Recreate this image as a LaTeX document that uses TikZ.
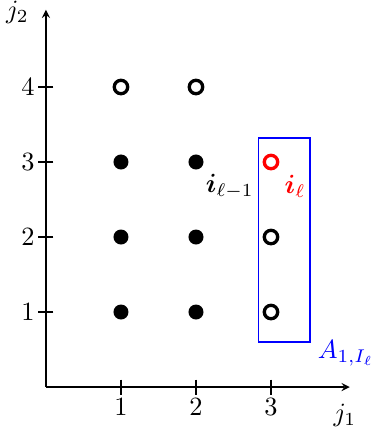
\documentclass[tikz,border=0pt]{standalone}
\usepackage{amsmath}
\usepackage{amssymb}
\usepackage{bm}
\usetikzlibrary{arrows,calc,positioning}
\tikzset{full/.style={circle,fill=black,inner sep=0pt,minimum size=5.7pt},
  hollow/.style={circle,draw=black,line width=1.25pt,inner sep=0pt,minimum size=5.1pt}}

\begin{document}
\begin{tikzpicture}[>=stealth, x=1cm, y=1cm]
\useasboundingbox (-0.613,-0.573) rectangle (4.373,5.16);
\coordinate (O) at (0,0);
\coordinate (X) at (4.05,0);
\coordinate (Y) at (0,5.03);
\draw[->] (O) -- (X) node[below left=3pt and -6pt] (J1) {$j_1$};
\draw[->] (O) -- (Y) node[left=3pt, yshift=-1pt] (J2) {$j_2$};

\draw (1,0.1) -- (1,-0.1) node[below=-2pt] (t1) {$1$};
\draw (2,0.1) -- (2,-0.1) node[below=-2pt] (t2) {$2$};
\draw (3,0.1) -- (3,-0.1) node[below=-2pt] (t3) {$3$};
\draw (0.1,1) -- (-0.1,1) node[left=-2pt] (s1) {$1$};
\draw (0.1,2) -- (-0.1,2) node[left=-2pt] (s2) {$2$};
\draw (0.1,3) -- (-0.1,3) node[left=-2pt] (s3) {$3$};
\draw (0.1,4) -- (-0.1,4) node[left=-2pt] (s4) {$4$};

\node[full] (P11) at (1,1) {};
\node[full] (P12) at (1,2) {};
\node[full] (P13) at (1,3) {};
\node[full] (P21) at (2,1) {};
\node[full] (P22) at (2,2) {};
\node[full] (P23) at (2,3) {};
\node[hollow] (P14) at (1,4) {};
\node[hollow] (P24) at (2,4) {};
\node[hollow] (P31) at (3,1) {};
\node[hollow] (P32) at (3,2) {};
\node[hollow, draw=red] (P33) at (3,3) {};

\node at (2.45,2.68) (Iprev) {$\bm{i}_{\ell-1}$};
\node[red] at (3.32,2.68) (Icur) {$\bm{i}_{\ell}$};

\draw[blue] (2.83,0.6) rectangle (3.52,3.32);
\node[blue] at (4.0,0.45) (A) {$A_{1,I_\ell}$};
\end{tikzpicture}
\end{document}
